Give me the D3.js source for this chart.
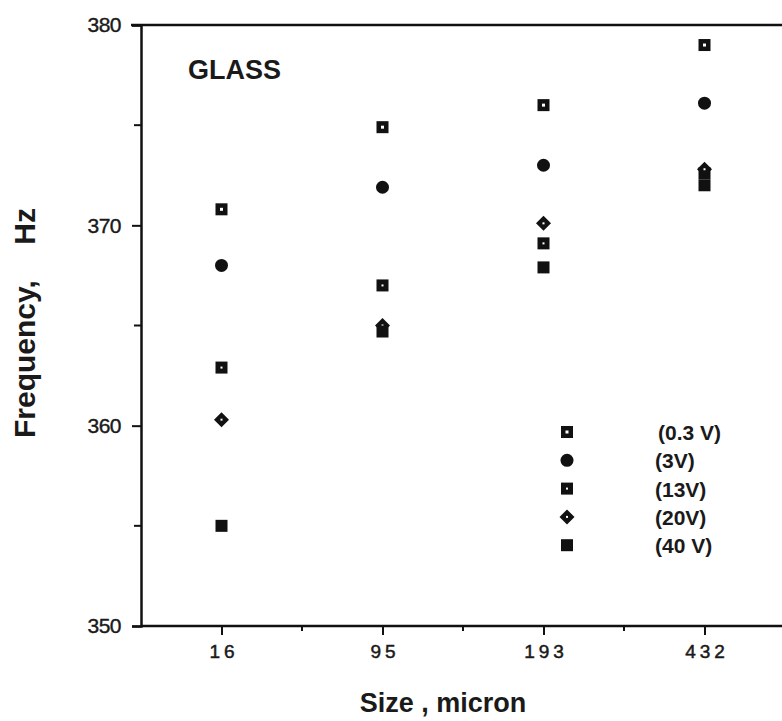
<!DOCTYPE html>
<html>
<head>
<meta charset="utf-8">
<script src="https://cdn.jsdelivr.net/npm/d3@7"></script>
<style>
  body { margin: 0; background: #fff; }
  svg text { font-family: "Liberation Sans", Arial, Helvetica, sans-serif; fill: #1a1a1a; }
</style>
</head>
<body>
<svg id="chart" width="782" height="721"></svg>
<script>
// particle sizes (micron) on the x axis
var sizes = ["16", "95", "193", "432"];
// legend labels, one per driving voltage
var voltages = ["(0.3 V)", "(3V)", "(13V)", "(20V)", "(40 V)"];
var markerKinds = ["dotSquare", "circle", "pinSquare", "diamond", "square"];
// frequency, Hz, per size for each voltage
var f03V = [370.8, 374.9, 376.0, 379.0];
var f3V  = [368.0, 371.9, 373.0, 376.1];
var f13V = [362.9, 367.0, 369.1, 372.6];
var f20V = [360.3, 365.0, 370.1, 372.8];
var f40V = [355.0, 364.7, 367.9, 372.0];
var yTicks = [350, 360, 370, 380];
var yMinor = [355, 365, 375];

var series = [f03V, f3V, f13V, f20V, f40V];

var svg = d3.select("#chart");
var plotLeft = 141, plotTop = 25, plotBottom = 626;

var x = d3.scalePoint().domain(sizes).range([plotLeft, plotLeft + 644]).padding(0.5);
var y = d3.scaleLinear().domain([350, 380]).range([plotBottom, plotTop]);

// top frame line
svg.append("line")
  .attr("x1", plotLeft - 10).attr("x2", 782)
  .attr("y1", y(380)).attr("y2", y(380))
  .attr("stroke", "#111").attr("stroke-width", 2.5);

// y axis
var yAxis = svg.append("g").attr("transform", "translate(" + plotLeft + ",0)")
  .call(d3.axisLeft(y).tickValues(yTicks).tickSize(9).tickPadding(11).tickFormat(d3.format("d")));
yAxis.attr("font-family", null).attr("font-size", null);
yAxis.select(".domain").attr("stroke", "#111").attr("stroke-width", 2.5);
yAxis.selectAll(".tick line").attr("stroke", "#111").attr("stroke-width", 2);
yAxis.selectAll(".tick text")
  .style("font-size", "21px").style("letter-spacing", "-0.5px")
  .attr("fill", "#1a1a1a").attr("stroke", "#1a1a1a").attr("stroke-width", 0.4);
yAxis.selectAll(".minor").data(yMinor).enter().append("line")
  .attr("x1", -7).attr("x2", 0)
  .attr("y1", function(d){ return y(d); }).attr("y2", function(d){ return y(d); })
  .attr("stroke", "#111").attr("stroke-width", 2);

// x axis
var xAxis = svg.append("g").attr("transform", "translate(0," + plotBottom + ")")
  .call(d3.axisBottom(x).tickSize(9).tickSizeOuter(0));
xAxis.attr("font-family", null).attr("font-size", null);
xAxis.select(".domain").attr("stroke", "#111").attr("stroke-width", 2.5)
  .attr("d", "M" + plotLeft + ",0H782");
xAxis.selectAll(".tick line").attr("stroke", "#111").attr("stroke-width", 2);
xAxis.selectAll(".tick text")
  .attr("y", 32).attr("dy", null).attr("dx", 2)
  .style("font-size", "19px").style("letter-spacing", "4px")
  .attr("fill", "#1a1a1a").attr("stroke", "#1a1a1a").attr("stroke-width", 0.5);
var step = x.step();
xAxis.selectAll(".minor").data(sizes.slice(0, 3)).enter().append("line")
  .attr("x1", function(d){ return x(d) + step / 2; })
  .attr("x2", function(d){ return x(d) + step / 2; })
  .attr("y1", 0).attr("y2", 5)
  .attr("stroke", "#111").attr("stroke-width", 2);

// markers
function drawMarker(g, kind) {
  if (kind === "circle") {
    g.append("circle").attr("r", 6.5).attr("fill", "#111");
  } else if (kind === "diamond") {
    g.append("path").attr("d", "M0,-7.5L7.5,0L0,7.5L-7.5,0Z").attr("fill", "#111");
    g.append("rect").attr("x", -1).attr("y", -1).attr("width", 2).attr("height", 2).attr("fill", "#fff");
  } else {
    g.append("rect").attr("x", -6).attr("y", -6).attr("width", 12).attr("height", 12).attr("fill", "#111");
    if (kind === "dotSquare") {
      g.append("rect").attr("x", -1.5).attr("y", -1.5).attr("width", 3).attr("height", 3).attr("fill", "#fff");
    } else if (kind === "pinSquare") {
      g.append("rect").attr("x", -1).attr("y", -1).attr("width", 2).attr("height", 2).attr("fill", "#fff");
    }
  }
}

series.forEach(function(vals, i) {
  svg.append("g").selectAll("g").data(vals).enter().append("g")
    .attr("transform", function(d, j){ return "translate(" + x(sizes[j]) + "," + y(d) + ")"; })
    .each(function(){ drawMarker(d3.select(this), markerKinds[i]); });
});

// legend
var legend = svg.append("g");
voltages.forEach(function(label, i) {
  var ly = 432 + i * 28.3;
  var g = legend.append("g").attr("transform", "translate(567," + ly + ")");
  drawMarker(g, markerKinds[i]);
  legend.append("text")
    .attr("x", i === 0 ? 658 : 655).attr("y", ly + 8)
    .style("font-size", "21px").attr("font-weight", "bold")
    .text(label);
});

// labels
svg.append("text").attr("x", 188).attr("y", 79)
  .style("font-size", "27px").attr("font-weight", "bold").text("GLASS");

svg.append("text").attr("x", 443).attr("y", 712)
  .attr("text-anchor", "middle").style("font-size", "27px").attr("font-weight", "bold")
  .text("Size , micron");

svg.append("text")
  .attr("transform", "translate(35,438) rotate(-90)")
  .attr("text-anchor", "start").style("font-size", "30px").attr("font-weight", "bold")
  .text("Frequency,");
svg.append("text")
  .attr("transform", "translate(35,208) rotate(-90)")
  .attr("text-anchor", "end").style("font-size", "30px").attr("font-weight", "bold")
  .text("Hz");
</script>
</body>
</html>
